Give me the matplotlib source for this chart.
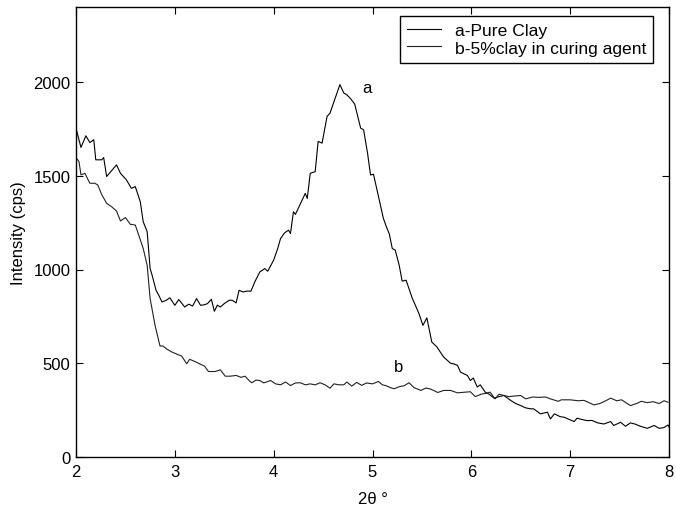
import matplotlib
matplotlib.use("Agg")
import matplotlib.pyplot as plt

plt.rcParams['font.family'] = ['Liberation Sans', 'DejaVu Sans']

# curve a - pure clay (x in 2theta degrees, y in cps)
a_x = [2.00, 2.05, 2.10, 2.14, 2.18, 2.20, 2.26, 2.28, 2.31, 2.41, 2.45, 2.51,
       2.56, 2.60, 2.65, 2.68, 2.72, 2.75, 2.77, 2.81, 2.84, 2.87, 2.91, 2.95,
       3.00, 3.04, 3.07, 3.10, 3.14, 3.18, 3.22, 3.26, 3.30, 3.33, 3.37, 3.40,
       3.43, 3.46, 3.50, 3.55, 3.58, 3.62, 3.65, 3.69, 3.73, 3.77, 3.81, 3.86,
       3.91, 3.94, 4.00, 4.04, 4.07, 4.11, 4.15, 4.17, 4.20, 4.22, 4.27, 4.32,
       4.34, 4.37, 4.42, 4.45, 4.49, 4.54, 4.57, 4.62, 4.67, 4.71, 4.74, 4.78,
       4.82, 4.88, 4.91, 4.95, 4.98, 5.01, 5.06, 5.11, 5.14, 5.17, 5.20, 5.23,
       5.27, 5.30, 5.34, 5.40, 5.47, 5.51, 5.55, 5.60, 5.65, 5.72, 5.79, 5.82,
       5.86, 5.89, 5.92, 5.96, 5.99, 6.02, 6.06, 6.09, 6.14, 6.18, 6.23, 6.28,
       6.33, 6.40, 6.45, 6.50, 6.55, 6.60, 6.63, 6.70, 6.77, 6.80, 6.84, 6.90,
       6.94, 7.04, 7.07, 7.12, 7.17, 7.22, 7.28, 7.34, 7.41, 7.44, 7.51, 7.56,
       7.61, 7.66, 7.71, 7.78, 7.85, 7.90, 7.95, 7.99, 8.00]
a_y = [1754, 1651, 1713, 1677, 1692, 1585, 1585, 1597, 1496, 1558, 1513, 1478,
       1433, 1442, 1362, 1255, 1202, 1005, 970, 889, 860, 827, 835, 849,
       809, 840, 820, 800, 815, 805, 845, 809, 812, 818, 841, 777,
       810, 800, 818, 836, 836, 822, 889, 880, 885, 884, 935, 987,
       1005, 991, 1050, 1110, 1166, 1195, 1210, 1192, 1308, 1294, 1350, 1406,
       1379, 1513, 1522, 1683, 1674, 1816, 1834, 1910, 1986, 1941, 1932, 1910,
       1882, 1754, 1745, 1620, 1504, 1508, 1390, 1273, 1228, 1190, 1112, 1103,
       1023, 938, 943, 850, 765, 702, 742, 613, 588, 533, 500, 497,
       489, 453, 445, 435, 408, 421, 373, 385, 346, 335, 314, 322,
       328, 301, 285, 274, 262, 257, 257, 230, 239, 203, 230, 215,
       212, 189, 207, 200, 194, 195, 182, 176, 189, 168, 185, 164,
       182, 175, 164, 153, 168, 153, 157, 171, 160]

# curve b - 5% clay in curing agent
b_x = [2.00, 2.03, 2.05, 2.09, 2.14, 2.19, 2.22, 2.26, 2.31, 2.36, 2.41, 2.45,
       2.50, 2.55, 2.60, 2.64, 2.68, 2.72, 2.75, 2.80, 2.85, 2.88, 2.92, 2.97,
       3.01, 3.07, 3.12, 3.15, 3.20, 3.27, 3.30, 3.34, 3.41, 3.46, 3.51, 3.56,
       3.62, 3.67, 3.71, 3.76, 3.78, 3.82, 3.86, 3.90, 3.97, 4.02, 4.07, 4.12,
       4.17, 4.22, 4.27, 4.32, 4.37, 4.42, 4.47, 4.52, 4.57, 4.61, 4.66, 4.71,
       4.74, 4.79, 4.84, 4.89, 4.94, 5.00, 5.06, 5.10, 5.14, 5.18, 5.22, 5.27,
       5.32, 5.37, 5.42, 5.49, 5.54, 5.59, 5.66, 5.72, 5.79, 5.86, 5.92, 5.99,
       6.04, 6.10, 6.15, 6.19, 6.24, 6.28, 6.33, 6.38, 6.43, 6.50, 6.55, 6.62,
       6.68, 6.75, 6.80, 6.88, 6.91, 7.00, 7.08, 7.14, 7.24, 7.30, 7.36, 7.41,
       7.47, 7.52, 7.61, 7.67, 7.72, 7.78, 7.84, 7.90, 7.95, 7.99]
b_y = [1597, 1576, 1505, 1513, 1460, 1460, 1451, 1400, 1353, 1335, 1312, 1259,
       1277, 1241, 1237, 1175, 1112, 1023, 845, 702, 592, 592, 575, 560,
       551, 538, 497, 521, 510, 492, 485, 456, 456, 465, 431, 431,
       435, 425, 431, 403, 396, 410, 408, 395, 408, 390, 385, 400,
       381, 395, 396, 385, 390, 385, 396, 385, 367, 390, 385, 385,
       400, 378, 398, 382, 395, 390, 403, 385, 380, 370, 364, 375,
       380, 396, 370, 355, 368, 362, 344, 355, 355, 342, 345, 348,
       322, 335, 340, 346, 310, 335, 328, 322, 325, 328, 310, 320,
       318, 320, 310, 297, 305, 305, 300, 302, 278, 285, 300, 314,
       300, 305, 274, 285, 297, 290, 295, 285, 300, 292]

labels = ['a-Pure Clay', 'b-5%clay in curing agent']
x_ticks = [2, 3, 4, 5, 6, 7, 8]
y_ticks = [0, 500, 1000, 1500, 2000]

fig = plt.figure(figsize=(6.76, 5.10), dpi=100)
ax = fig.add_axes([76 / 676, 52 / 510, 593 / 676, 450 / 510])

ax.plot(a_x, a_y, color='black', linewidth=0.8, label=labels[0])
ax.plot(b_x, b_y, color='#222222', linewidth=0.8, label=labels[1])

ax.text(4.94, 1968, 'a', fontsize=12, ha='center', va='center')
ax.text(5.26, 481, 'b', fontsize=12, ha='center', va='center')

ax.set_xlim(2, 8)
ax.set_ylim(0, 2400)
ax.set_xticks(x_ticks)
ax.set_yticks(y_ticks)
ax.tick_params(direction='in', length=5, width=0.8, top=True, right=True,
               labelsize=12, colors='black')
ax.tick_params(axis='x', pad=5)
ax.tick_params(axis='y', pad=4)
for s in ax.spines.values():
    s.set_linewidth(1.0)
    s.set_color('black')

ax.set_xlabel('2θ °', fontsize=12, labelpad=9)
ax.set_ylabel('Intensity (cps)', fontsize=12, labelpad=5)

leg = ax.legend(loc='upper right', bbox_to_anchor=(0.973, 0.98), fontsize=12.6,
                frameon=True, fancybox=False, edgecolor='black', framealpha=1,
                handlelength=1.9, handletextpad=0.8, borderpad=0.4,
                labelspacing=0.12, borderaxespad=0)
leg.get_frame().set_linewidth(1.0)

plt.savefig('out.png', dpi=100)
